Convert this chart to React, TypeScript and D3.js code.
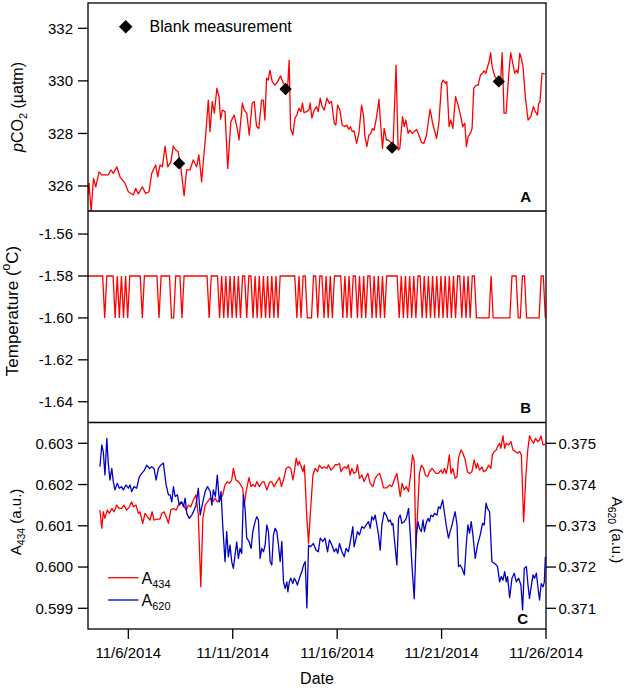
import React from "react";
import * as d3 from "d3";

// ---------- data ----------
// time is given as fractional day of November 2014
const pco2: [number, number][] = [
  [4.06, 325.66], [4.12, 326.1], [4.22, 325.02], [4.33, 326.29], [4.44, 325.97], [4.6, 326.54],
  [4.73, 326.42], [5.04, 326.42], [5.17, 326.61], [5.28, 326.48], [5.45, 326.73], [5.6, 326.35],
  [5.84, 326.1], [6.0, 325.78], [6.24, 325.66], [6.35, 325.91], [6.48, 325.7], [6.67, 325.97],
  [6.83, 325.72], [6.99, 325.78], [7.12, 326.48], [7.31, 326.8], [7.41, 326.35], [7.52, 326.8],
  [7.63, 326.73], [7.76, 327.52], [7.89, 326.73], [8.04, 326.92], [8.15, 327.52], [8.27, 327.37],
  [8.39, 327.3], [8.52, 326.67], [8.67, 325.63], [8.79, 326.61], [8.95, 326.61], [9.11, 326.99],
  [9.27, 326.73], [9.38, 327.18], [9.51, 326.16], [9.64, 327.37], [9.7, 327.88], [9.83, 329.27],
  [9.91, 328.07], [10.02, 329.21], [10.12, 328.77], [10.24, 329.72], [10.34, 329.4], [10.42, 328.54],
  [10.5, 328.89], [10.63, 328.83], [10.76, 326.67], [10.91, 328.45], [11.07, 328.7], [11.23, 328.13],
  [11.3, 327.75], [11.46, 329.15], [11.55, 328.89], [11.67, 328.77], [11.79, 327.94], [11.93, 329.15],
  [12.03, 329.21], [12.14, 328.26], [12.25, 328.19], [12.38, 329.27], [12.46, 329.27], [12.54, 328.51],
  [12.62, 330.1], [12.7, 330.03], [12.78, 330.41], [12.89, 329.97], [13.02, 329.84], [13.15, 329.97],
  [13.29, 330.19], [13.42, 329.91], [13.63, 329.78], [13.7, 330.79], [13.77, 328.19], [13.88, 327.94],
  [13.98, 328.58], [14.07, 328.7], [14.17, 328.96], [14.26, 328.83], [14.34, 329.15], [14.41, 328.79],
  [14.54, 328.83], [14.65, 328.89], [14.71, 329.15], [14.79, 328.58], [14.9, 328.89], [15.01, 329.02],
  [15.09, 328.83], [15.19, 329.34], [15.28, 329.02], [15.38, 328.89], [15.51, 329.34], [15.62, 329.15],
  [15.73, 329.21], [15.86, 328.39], [15.94, 328.32], [16.02, 329.08], [16.13, 328.89], [16.24, 328.32],
  [16.37, 328.26], [16.46, 328.32], [16.56, 328.15], [16.64, 328.26], [16.72, 328.07], [16.81, 328.1],
  [16.93, 327.62], [17.04, 328.0], [17.17, 329.08], [17.26, 328.7], [17.33, 327.88], [17.42, 327.5],
  [17.52, 327.94], [17.61, 328.0], [17.69, 328.19], [17.77, 328.13], [17.89, 328.64], [18.0, 329.3],
  [18.08, 328.39], [18.17, 327.43], [18.25, 328.19], [18.36, 327.75], [18.44, 327.75], [18.52, 327.69],
  [18.68, 327.6], [18.82, 330.6], [18.92, 327.37], [19.0, 327.43], [19.13, 328.64], [19.21, 328.26],
  [19.29, 328.51], [19.4, 328.0], [19.48, 328.13], [19.59, 328.0], [19.8, 328.15], [19.91, 327.94],
  [20.04, 327.65], [20.15, 327.62], [20.28, 327.94], [20.45, 328.92], [20.59, 328.32], [20.76, 327.81],
  [20.87, 328.39], [21.0, 329.91], [21.07, 330.03], [21.19, 329.91], [21.25, 329.97], [21.36, 328.26],
  [21.44, 328.51], [21.54, 328.19], [21.67, 329.4], [21.79, 329.08], [21.92, 328.64], [22.01, 328.26],
  [22.11, 328.39], [22.19, 327.5], [22.27, 327.88], [22.38, 328.0], [22.46, 328.19], [22.54, 329.72],
  [22.67, 329.84], [22.75, 329.84], [22.86, 330.22], [22.96, 330.29], [23.03, 330.38], [23.12, 330.29],
  [23.2, 330.54], [23.26, 330.67], [23.35, 331.07], [23.42, 330.54], [23.55, 330.16], [23.74, 329.98],
  [23.83, 330.03], [23.9, 331.07], [23.99, 328.77], [24.09, 328.77], [24.22, 330.29], [24.31, 331.07],
  [24.44, 330.54], [24.5, 330.29], [24.6, 330.41], [24.66, 330.29], [24.74, 331.05], [24.82, 330.86],
  [24.9, 330.54], [25.01, 329.4], [25.14, 328.51], [25.27, 328.64], [25.4, 329.02], [25.49, 328.83],
  [25.59, 328.7], [25.65, 329.15], [25.71, 329.18], [25.81, 330.29], [25.94, 330.26],
];

const blanks: [number, number][] = [
  [8.43, 326.86], [13.53, 329.69], [18.63, 327.46], [23.74, 329.98],
];

// temperature: one sample every 0.1 day from day 4.07; "0" = -1.58 °C, "1" = -1.60 °C
const tempStart = 4.07;
const tempStep = 0.1;
const tempLevels = [-1.58, -1.6];
const tempPattern =
  "00000000" + "1" + "0000" + "1010101" + "000000" + "1" + "0000000" + "1" + "00000" +
  "110001" + "000000000000" + "1" + "0000" + "10101010101" + "00" + "1" + "00" +
  "1010101010101" + "00000000" + "10100111" + "00" + "1" + "00" + "10101" + "0000" +
  "10101" + "00" + "10101" + "00" + "1010101" + "000000" + "101010101" + "00" +
  "10101010101010101" + "00" + "10101" + "00" + "1111111" + "0" + "111111111" + "000" +
  "11" + "00" + "1111111" + "00" + "1";

const a434: [number, number][] = [
  [4.64, 0.60138], [4.73, 0.60094], [4.8, 0.60134], [4.88, 0.60118], [4.99, 0.60138], [5.09, 0.6013],
  [5.21, 0.60142], [5.32, 0.60134], [5.44, 0.6015], [5.57, 0.60142], [5.68, 0.60142], [5.79, 0.6015],
  [5.92, 0.60138], [6.05, 0.60146], [6.16, 0.60158], [6.24, 0.60146], [6.37, 0.6015], [6.48, 0.6013],
  [6.56, 0.60134], [6.69, 0.60106], [6.8, 0.6013], [6.91, 0.60122], [7.04, 0.60114], [7.14, 0.60134],
  [7.23, 0.60114], [7.36, 0.60116], [7.52, 0.60116], [7.6, 0.6013], [7.71, 0.60134], [7.81, 0.60122],
  [7.92, 0.60106], [8.03, 0.60138], [8.16, 0.60142], [8.29, 0.60138], [8.4, 0.6015], [8.51, 0.60158],
  [8.64, 0.6015], [8.77, 0.60138], [8.88, 0.6015], [8.99, 0.60146], [9.12, 0.60163], [9.24, 0.60175],
  [9.35, 0.60126], [9.47, 0.59952], [9.57, 0.60118], [9.68, 0.6015], [9.79, 0.60158], [9.92, 0.60167],
  [10.04, 0.60158], [10.15, 0.60167], [10.26, 0.60158], [10.39, 0.60163], [10.52, 0.60175], [10.63, 0.60199],
  [10.74, 0.60207], [10.84, 0.60203], [10.95, 0.60211], [11.03, 0.60239], [11.15, 0.60211], [11.27, 0.60207],
  [11.38, 0.60199], [11.48, 0.60191], [11.54, 0.60146], [11.64, 0.60183], [11.78, 0.60217], [11.88, 0.60195],
  [11.96, 0.602], [12.07, 0.60195], [12.15, 0.60207], [12.28, 0.60195], [12.39, 0.60205], [12.5, 0.60207],
  [12.63, 0.60187], [12.76, 0.60205], [12.87, 0.60207], [12.98, 0.60195], [13.11, 0.60207], [13.24, 0.60217],
  [13.33, 0.60195], [13.43, 0.60211], [13.56, 0.60239], [13.67, 0.60243], [13.78, 0.60239], [13.88, 0.60211],
  [13.95, 0.60231], [14.04, 0.60264], [14.12, 0.60247], [14.19, 0.60256], [14.28, 0.60243], [14.36, 0.60231],
  [14.43, 0.60247], [14.55, 0.60118], [14.63, 0.60058], [14.71, 0.60126], [14.84, 0.60223], [14.95, 0.60239],
  [15.06, 0.60231], [15.15, 0.60247], [15.27, 0.60239], [15.38, 0.60243], [15.51, 0.60239], [15.58, 0.60248],
  [15.7, 0.60235], [15.79, 0.60239], [15.9, 0.60248], [16.01, 0.60248], [16.11, 0.60251], [16.18, 0.60231],
  [16.27, 0.60239], [16.38, 0.60243], [16.46, 0.60239], [16.54, 0.60248], [16.62, 0.60223], [16.7, 0.60239],
  [16.81, 0.60227], [16.91, 0.60231], [16.97, 0.60248], [17.07, 0.60215], [17.18, 0.60223], [17.29, 0.60207],
  [17.39, 0.60219], [17.47, 0.60227], [17.58, 0.60203], [17.71, 0.60195], [17.82, 0.60215], [17.93, 0.60223],
  [18.03, 0.60227], [18.11, 0.60215], [18.22, 0.60192], [18.38, 0.60192], [18.51, 0.60199], [18.62, 0.60195],
  [18.73, 0.60211], [18.86, 0.60227], [18.94, 0.60199], [19.02, 0.60171], [19.11, 0.60203], [19.21, 0.60187],
  [19.31, 0.60195], [19.42, 0.60183], [19.53, 0.60231], [19.61, 0.60272], [19.69, 0.60256], [19.77, 0.60045],
  [19.94, 0.60227], [20.03, 0.60247], [20.14, 0.60239], [20.22, 0.60223], [20.33, 0.60219], [20.42, 0.60231],
  [20.54, 0.60239], [20.61, 0.60235], [20.74, 0.60227], [20.85, 0.60227], [20.97, 0.60235], [21.06, 0.60227],
  [21.14, 0.60239], [21.22, 0.60227], [21.29, 0.60243], [21.37, 0.60272], [21.45, 0.60227], [21.54, 0.60239],
  [21.65, 0.60215], [21.74, 0.60219], [21.81, 0.60264], [21.93, 0.60284], [22.02, 0.60276], [22.13, 0.6026],
  [22.24, 0.60231], [22.34, 0.60227], [22.45, 0.60231], [22.56, 0.6026], [22.66, 0.60239], [22.72, 0.60251],
  [22.82, 0.60235], [22.93, 0.60243], [23.01, 0.60231], [23.14, 0.60235], [23.25, 0.60247], [23.36, 0.60239],
  [23.43, 0.60272], [23.52, 0.6028], [23.62, 0.60284], [23.68, 0.60292], [23.78, 0.603], [23.84, 0.60288],
  [23.94, 0.60318], [24.02, 0.60288], [24.1, 0.603], [24.21, 0.60296], [24.32, 0.60304], [24.42, 0.60284],
  [24.53, 0.6028], [24.64, 0.60276], [24.74, 0.6028], [24.82, 0.60272], [24.93, 0.6011], [25.04, 0.60223],
  [25.12, 0.6028], [25.21, 0.60318], [25.3, 0.60308], [25.41, 0.603], [25.5, 0.60312], [25.6, 0.60304],
  [25.69, 0.60308], [25.76, 0.60318], [25.86, 0.60296], [25.97, 0.60298],
];

const a620: [number, number][] = [
  [4.64, 0.37443], [4.73, 0.37496], [4.8, 0.3748], [4.88, 0.37423], [4.97, 0.37512], [5.04, 0.37452],
  [5.12, 0.37411], [5.21, 0.37439], [5.28, 0.37407], [5.36, 0.37387], [5.47, 0.37403], [5.57, 0.37391],
  [5.68, 0.37395], [5.76, 0.37387], [5.89, 0.37399], [6.0, 0.37391], [6.08, 0.37399], [6.16, 0.37383],
  [6.27, 0.37395], [6.4, 0.37391], [6.53, 0.37419], [6.64, 0.37427], [6.75, 0.37433], [6.88, 0.37447],
  [7.01, 0.37439], [7.12, 0.37443], [7.23, 0.37439], [7.33, 0.37411], [7.44, 0.37439], [7.55, 0.37447],
  [7.68, 0.37452], [7.81, 0.37399], [7.92, 0.37375], [8.0, 0.37375], [8.08, 0.37358], [8.16, 0.37395],
  [8.24, 0.37371], [8.35, 0.37375], [8.44, 0.3735], [8.56, 0.37358], [8.64, 0.37346], [8.72, 0.37367],
  [8.8, 0.3733], [8.92, 0.37318], [9.04, 0.37326], [9.15, 0.37338], [9.24, 0.3735], [9.35, 0.37391],
  [9.44, 0.37326], [9.57, 0.37358], [9.68, 0.37383], [9.79, 0.37395], [9.92, 0.37383], [10.0, 0.3735],
  [10.07, 0.37387], [10.17, 0.37371], [10.26, 0.37423], [10.36, 0.37358], [10.44, 0.37383], [10.52, 0.37302],
  [10.63, 0.37213], [10.71, 0.37286], [10.79, 0.37225], [10.87, 0.37253], [10.95, 0.37213], [11.03, 0.37197],
  [11.11, 0.37229], [11.19, 0.37261], [11.27, 0.37221], [11.35, 0.37245], [11.43, 0.37233], [11.51, 0.37375],
  [11.59, 0.37342], [11.67, 0.3727], [11.78, 0.37262], [11.88, 0.37245], [11.96, 0.37286], [12.07, 0.3731],
  [12.15, 0.37322], [12.23, 0.37314], [12.31, 0.37221], [12.39, 0.37245], [12.47, 0.37237], [12.55, 0.37253],
  [12.63, 0.37302], [12.71, 0.37286], [12.79, 0.37213], [12.87, 0.37205], [12.95, 0.37278], [13.03, 0.37294],
  [13.11, 0.37286], [13.19, 0.37253], [13.27, 0.37213], [13.35, 0.37262], [13.43, 0.37164], [13.51, 0.37148],
  [13.59, 0.37164], [13.64, 0.3714], [13.71, 0.37164], [13.78, 0.37173], [13.88, 0.3716], [13.95, 0.37173],
  [14.04, 0.37164], [14.1, 0.37156], [14.19, 0.37173], [14.31, 0.37189], [14.39, 0.37205], [14.47, 0.37213],
  [14.55, 0.37101], [14.63, 0.37253], [14.71, 0.37249], [14.79, 0.37253], [14.86, 0.37257], [14.99, 0.37241],
  [15.1, 0.37237], [15.19, 0.3727], [15.31, 0.37262], [15.42, 0.3727], [15.54, 0.37237], [15.63, 0.37266],
  [15.75, 0.37253], [15.86, 0.37237], [15.95, 0.37245], [16.03, 0.37233], [16.11, 0.37257], [16.23, 0.37237],
  [16.34, 0.37225], [16.43, 0.37245], [16.54, 0.37237], [16.66, 0.3727], [16.75, 0.37298], [16.81, 0.37249],
  [16.91, 0.3727], [16.97, 0.37286], [17.07, 0.37278], [17.18, 0.37298], [17.29, 0.37294], [17.39, 0.37302],
  [17.5, 0.3731], [17.58, 0.37294], [17.66, 0.37322], [17.74, 0.37314], [17.82, 0.37326], [17.9, 0.37302],
  [17.98, 0.37278], [18.06, 0.37241], [18.14, 0.37302], [18.25, 0.37333], [18.35, 0.37326], [18.46, 0.3731],
  [18.54, 0.37314], [18.62, 0.37302], [18.67, 0.37306], [18.75, 0.37262], [18.86, 0.37205], [18.94, 0.37318],
  [19.02, 0.37326], [19.1, 0.37306], [19.21, 0.3731], [19.31, 0.37318], [19.42, 0.37342], [19.5, 0.37278],
  [19.58, 0.37205], [19.69, 0.37123], [19.79, 0.37278], [19.87, 0.3731], [19.94, 0.37294], [20.03, 0.37286],
  [20.11, 0.37314], [20.18, 0.37286], [20.26, 0.37306], [20.35, 0.37318], [20.42, 0.3731], [20.49, 0.37326],
  [20.59, 0.37322], [20.66, 0.3733], [20.78, 0.37326], [20.85, 0.37346], [20.94, 0.37342], [21.05, 0.37363],
  [21.13, 0.37334], [21.22, 0.37302], [21.33, 0.3727], [21.41, 0.37286], [21.5, 0.37302], [21.57, 0.37318],
  [21.65, 0.37334], [21.74, 0.37302], [21.81, 0.37201], [21.89, 0.37205], [21.98, 0.37197], [22.09, 0.37181],
  [22.18, 0.37253], [22.26, 0.37302], [22.34, 0.37282], [22.42, 0.3731], [22.5, 0.37278], [22.61, 0.37221],
  [22.72, 0.37253], [22.85, 0.37278], [22.96, 0.37306], [23.04, 0.37302], [23.13, 0.37355], [23.2, 0.37342],
  [23.3, 0.37334], [23.41, 0.37213], [23.52, 0.37209], [23.62, 0.37205], [23.68, 0.37201], [23.78, 0.37164],
  [23.86, 0.37177], [23.94, 0.37168], [24.02, 0.37189], [24.1, 0.37164], [24.16, 0.37177], [24.26, 0.37126],
  [24.37, 0.37173], [24.48, 0.37185], [24.58, 0.37164], [24.69, 0.37173], [24.8, 0.37156], [24.88, 0.37096],
  [24.96, 0.37197], [25.06, 0.37201], [25.14, 0.37156], [25.21, 0.37124], [25.3, 0.37156], [25.38, 0.37181],
  [25.45, 0.37173], [25.54, 0.37185], [25.62, 0.37148], [25.69, 0.3712], [25.77, 0.3716], [25.86, 0.37152],
  [25.92, 0.37164], [25.97, 0.37225],
];

const xTickDays = [6, 11, 16, 21, 26];
const pco2Ticks = [326, 328, 330, 332];
const tempTicks = [-1.56, -1.58, -1.6, -1.62, -1.64];
const a434Ticks = [0.599, 0.6, 0.601, 0.602, 0.603];
const a620Ticks = [0.371, 0.372, 0.373, 0.374, 0.375];

// ---------- helpers ----------
const DAY0 = Date.UTC(2014, 10, 1);
const toDate = (d: number) => new Date(DAY0 + (d - 1) * 864e5);

const W = 624;
const H = 689;
const L = 88;
const R = 546;
const PA = { top: 3, bottom: 211 };
const PB = { top: 211, bottom: 422.5 };
const PC = { top: 422.5, bottom: 629 };

const FONT = "Arial, 'Liberation Sans', Helvetica, sans-serif";
const RED = "#ff0000";
const BLUE = "#0000c8";

export default function App() {
  const x = d3.scaleUtc().domain([toDate(4.069), toDate(26.0)]).range([L, R]);
  const yA = d3.scaleLinear().domain([325.049, 332.963]).range([PA.bottom, PA.top]);
  const yB = d3.scaleLinear().domain([-1.6499, -1.549]).range([PB.bottom, PB.top]);
  const yC = d3.scaleLinear().domain([0.598498, 0.603504]).range([PC.bottom, PC.top]);
  const yC2 = d3.scaleLinear().domain([0.370498, 0.375504]).range([PC.bottom, PC.top]);

  const tempData: [number, number][] = tempPattern
    .split("")
    .map((c, i) => [tempStart + i * tempStep, tempLevels[+c]]);

  const lineA = d3.line<[number, number]>().x((d) => x(toDate(d[0]))).y((d) => yA(d[1]));
  const lineB = d3.line<[number, number]>().x((d) => x(toDate(d[0]))).y((d) => yB(d[1]));
  const lineC = d3.line<[number, number]>().x((d) => x(toDate(d[0]))).y((d) => yC(d[1]));
  const lineC2 = d3.line<[number, number]>().x((d) => x(toDate(d[0]))).y((d) => yC2(d[1]));

  const diamond = d3.symbol().type(d3.symbolSquare).size(76)() as string;
  const diamondBig = d3.symbol().type(d3.symbolSquare).size(92)() as string;
  const fmtDate = d3.utcFormat("%-m/%-d/%Y");

  const TICK = 10;
  const tickFont = 15;

  const leftAxis = (scale: d3.ScaleLinear<number, number>, ticks: number[], fmt: (v: number) => string) =>
    ticks.map((t) => (
      <g key={t}>
        <line x1={L - TICK} x2={L} y1={scale(t)} y2={scale(t)} stroke="#000" strokeWidth={1.3} />
        <text x={L - 15} y={scale(t)} dy="0.36em" textAnchor="end" fontSize={tickFont}>
          {fmt(t)}
        </text>
      </g>
    ));

  return (
    <svg
      width={W}
      height={H}
      style={{ position: "absolute", left: 0, top: 0, background: "#fff" }}
      fontFamily={FONT}
    >
      <defs>
        <clipPath id="clipA">
          <rect x={L} y={PA.top} width={R - L} height={PA.bottom - PA.top} />
        </clipPath>
        <clipPath id="clipB">
          <rect x={L} y={PB.top} width={R - L} height={PB.bottom - PB.top} />
        </clipPath>
        <clipPath id="clipC">
          <rect x={L} y={PC.top} width={R - L} height={PC.bottom - PC.top} />
        </clipPath>
      </defs>

      {/* Panel A */}
      <g clipPath="url(#clipA)">
        <path d={lineA(pco2) || ""} fill="none" stroke={RED} strokeWidth={1.3} strokeLinejoin="round" />
      </g>
      {blanks.map((b, i) => (
        <path
          key={i}
          d={diamond}
          transform={`translate(${x(toDate(b[0]))},${yA(b[1])}) rotate(45)`}
          fill="#000"
        />
      ))}
      <path d={diamondBig} transform="translate(125.7,26.7) rotate(45)" fill="#000" />
      <text x={149.5} y={32} fontSize={16}>
        Blank measurement
      </text>
      {leftAxis(yA, pco2Ticks, (v) => d3.format("d")(v))}
      <text x={531} y={202} textAnchor="end" fontSize={15} fontWeight="bold">
        A
      </text>
      <text transform={`translate(23,${(PA.top + PA.bottom) / 2}) rotate(-90)`} textAnchor="middle" fontSize={16}>
        <tspan fontStyle="italic">p</tspan>
        <tspan>CO</tspan>
        <tspan fontSize={11} dy={4}>2</tspan>
        <tspan dy={-4}> (µatm)</tspan>
      </text>

      {/* Panel B */}
      <g clipPath="url(#clipB)">
        <path d={lineB(tempData) || ""} fill="none" stroke={RED} strokeWidth={1.3} strokeLinejoin="miter" />
      </g>
      {leftAxis(yB, tempTicks, (v) => d3.format(".2f")(v).replace("−", "-"))}
      <text x={531} y={413} textAnchor="end" fontSize={15} fontWeight="bold">
        B
      </text>
      <text transform={`translate(18,311) rotate(-90)`} textAnchor="middle" fontSize={17}>
        <tspan>Temperature (</tspan>
        <tspan fontSize={12} dy={-8}>o</tspan>
        <tspan dy={8}>C)</tspan>
      </text>

      {/* Panel C */}
      <g clipPath="url(#clipC)">
        <path d={lineC(a434) || ""} fill="none" stroke={RED} strokeWidth={1.3} strokeLinejoin="round" />
        <path d={lineC2(a620) || ""} fill="none" stroke={BLUE} strokeWidth={1.3} strokeLinejoin="round" />
      </g>
      {leftAxis(yC, a434Ticks, (v) => d3.format(".3f")(v))}
      {a620Ticks.map((t) => (
        <g key={t}>
          <line x1={R} x2={R + TICK} y1={yC2(t)} y2={yC2(t)} stroke="#000" strokeWidth={1.3} />
          <text x={R + 12.5} y={yC2(t)} dy="0.36em" textAnchor="start" fontSize={tickFont}>
            {d3.format(".3f")(t)}
          </text>
        </g>
      ))}
      <text x={528} y={624} textAnchor="end" fontSize={15} fontWeight="bold">
        C
      </text>
      <text transform={`translate(20.5,522) rotate(-90)`} textAnchor="middle" fontSize={15}>
        <tspan>A</tspan>
        <tspan fontSize={10.5} dy={4}>434</tspan>
        <tspan dy={-4}> (a.u.)</tspan>
      </text>
      <text transform={`translate(611.5,530) rotate(90)`} textAnchor="middle" fontSize={15}>
        <tspan>A</tspan>
        <tspan fontSize={10.5} dy={4}>620</tspan>
        <tspan dy={-4}> (a.u.)</tspan>
      </text>
      {/* legend C */}
      <line x1={108} x2={138.5} y1={577.7} y2={577.7} stroke={RED} strokeWidth={1.3} />
      <text x={141.5} y={583.5} fontSize={16}>
        <tspan>A</tspan>
        <tspan fontSize={11} dy={4}>434</tspan>
      </text>
      <line x1={108} x2={138.5} y1={600} y2={600} stroke={BLUE} strokeWidth={1.3} />
      <text x={141.5} y={605.8} fontSize={16}>
        <tspan>A</tspan>
        <tspan fontSize={11} dy={4}>620</tspan>
      </text>

      {/* x axis */}
      {xTickDays.map((d) => (
        <g key={d}>
          <line x1={x(toDate(d))} x2={x(toDate(d))} y1={PC.bottom} y2={PC.bottom + TICK} stroke="#000" strokeWidth={1.3} />
          <text x={x(toDate(d))} y={657.5} textAnchor="middle" fontSize={tickFont}>
            {fmtDate(toDate(d))}
          </text>
        </g>
      ))}
      <text x={(L + R) / 2} y={684} textAnchor="middle" fontSize={16}>
        Date
      </text>

      {/* frames */}
      <rect x={L} y={PA.top} width={R - L} height={PC.bottom - PA.top} fill="none" stroke="#000" strokeWidth={1.3} />
      <line x1={L} x2={R} y1={PA.bottom} y2={PA.bottom} stroke="#000" strokeWidth={1.3} />
      <line x1={L} x2={R} y1={PB.bottom} y2={PB.bottom} stroke="#000" strokeWidth={1.3} />
    </svg>
  );
}
